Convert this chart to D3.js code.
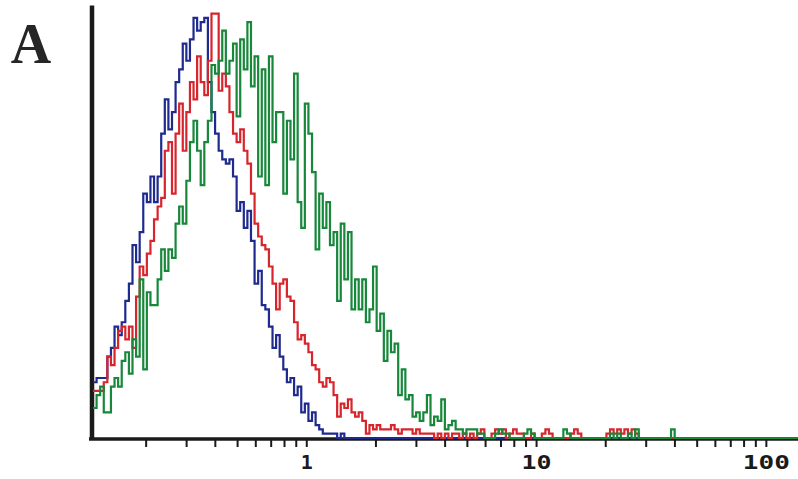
<!DOCTYPE html>
<html>
<head>
<meta charset="utf-8">
<script src="https://cdn.jsdelivr.net/npm/d3@7"></script>
<style>
  html, body { margin: 0; padding: 0; background: #fff; }
  svg { display: block; }
</style>
</head>
<body>
<svg id="chart" width="798" height="479"></svg>
<script>
// Log-scaled fluorescence channels: each bin is 1/64 of a decade, starting at 0.118
const channelOrigin = 0.118;
const channelsPerDecade = 64;
const xExtent = [0.118, 138];
const countMax = 101;

// Axis ticks and labels
const minorTicks = [0.2, 0.3, 0.4, 0.5, 0.6, 0.7, 0.8, 0.9,
                    2, 3, 4, 5, 6, 7, 8, 9,
                    20, 30, 40, 50, 60, 70, 80, 90];
const labelValues = [1, 10, 100];
const labelTexts = ["1", "10", "100"];
const panelLetter = "A";

// Event counts per channel for each histogram
const blueCounts = [
  13, 14, 14, 14, 19, 21, 26, 24, 27, 32,
  36, 45, 41, 48, 57, 55, 61, 55, 61, 71,
  79, 72, 76, 83, 86, 92, 88, 93, 98, 95,
  97, 98, 83, 76, 71, 67, 65, 64, 65, 61,
  53, 55, 49, 53, 46, 36, 39, 31, 30, 26,
  21, 24, 19, 16, 13, 14, 10, 12, 6, 8,
  4, 6, 3, 2, 1, 1, 1, 1, 0, 1
];
const redCounts = [
  11, 11, 11, 13, 19, 17, 21, 25, 26, 23,
  26, 21, 33, 40, 38, 43, 46, 51, 54, 56,
  67, 69, 57, 71, 78, 67, 76, 83, 79, 89,
  83, 80, 88, 99, 99, 81, 85, 82, 76, 71,
  69, 72, 67, 64, 57, 50, 47, 45, 44, 40,
  36, 30, 36, 37, 33, 32, 27, 23, 24, 22,
  20, 17, 16, 13, 12, 14, 13, 10, 5, 8,
  7, 9, 6, 5, 6, 4, 1, 3, 2, 3,
  2, 2, 2, 3, 2, 1, 2, 2, 2, 1,
  2, 1, 1, 1, 1, 0, 1, 0, 1, 0,
  1, 1, 0, 1, 0, 1, 0, 1, 2, 0,
  0, 1, 2, 1, 2, 0, 1, 2, 1, 1,
  0, 0, 1, 0, 0, 1, 2, 1, 0, 0,
  0, 0, 0, 1, 2, 1, 0, 0, 0, 0,
  0, 0, 0, 1, 2, 1, 2, 1, 2, 1,
  2, 1
];
const greenCounts = [
  7, 10, 12, 6, 6, 12, 14, 12, 18, 20,
  15, 23, 19, 37, 16, 34, 31, 31, 37, 44,
  39, 44, 42, 50, 54, 50, 60, 69, 74, 67,
  59, 69, 74, 87, 85, 88, 95, 85, 88, 92,
  75, 93, 86, 97, 82, 89, 61, 86, 59, 89,
  69, 76, 76, 57, 74, 65, 85, 55, 49, 78,
  71, 62, 44, 57, 49, 55, 45, 48, 32, 50,
  37, 48, 30, 37, 30, 37, 27, 30, 40, 25,
  29, 18, 25, 20, 22, 10, 16, 9, 10, 5,
  6, 4, 6, 10, 3, 5, 4, 9, 2, 3,
  4, 2, 2, 1, 2, 2, 2, 1, 1, 0,
  0, 0, 1, 2, 1, 1, 0, 0, 0, 0,
  1, 2, 1, 0, 0, 0, 0, 0, 0, 0,
  0, 2, 1, 0, 0, 0, 0, 0, 0, 0,
  0, 0, 0, 0, 1, 0, 1, 0, 0, 1,
  0, 2, 0, 0, 0, 0, 0, 0, 0, 0,
  0, 2
];

const seriesNames = ["blue", "red", "green"];
const seriesCounts = [blueCounts, redCounts, greenCounts];
const seriesColors = ["#1e2a8e", "#d6252c", "#17873a"];

const svg = d3.select("#chart");

const x = d3.scaleLog().domain(xExtent).range([93, 798]);
const y = d3.scaleLinear().domain([0, countMax]).range([438, 5]);

// lower edge of channel i
const channelEdge = i => channelOrigin * Math.pow(10, i / channelsPerDecade);

// Panel letter
svg.append("text")
  .attr("x", 31)
  .attr("y", 63)
  .attr("text-anchor", "middle")
  .attr("font-family", "'Liberation Serif', 'DejaVu Serif', serif")
  .attr("font-weight", "bold")
  .attr("font-size", 56)
  .attr("fill", "#262626")
  .text(panelLetter);

// Vertical axis line
const yAxis = d3.axisLeft(y).tickValues([]).tickSizeOuter(0);
const gy = svg.append("g").attr("transform", "translate(91.5,0)").call(yAxis);
gy.select(".domain").attr("stroke", "#1a1a1a").attr("stroke-width", 4.5);

// Horizontal axis: line, ticks, labels
const gx = svg.append("g").attr("transform", `translate(0,${y(0)})`);
gx.call(d3.axisBottom(x)
  .tickValues(minorTicks.concat(labelValues))
  .tickSize(9)
  .tickSizeOuter(0)
  .tickFormat(() => ""));
gx.select(".domain").remove();
gx.selectAll(".tick line").attr("stroke", "#1a1a1a").attr("stroke-width", 2);
gx.append("line")
  .attr("x1", 89).attr("x2", 798)
  .attr("y1", 1).attr("y2", 1)
  .attr("stroke", "#1a1a1a").attr("stroke-width", 3.5);

const labelWidths = { "1": 12, "10": 30, "100": 47 };
const gl = svg.append("g").attr("transform", `translate(0,${y(0)})`);
gl.call(d3.axisBottom(x)
  .tickValues(labelValues)
  .tickSize(0)
  .tickPadding(18)
  .tickFormat((d, i) => labelTexts[i]));
gl.select(".domain").remove();
gl.selectAll(".tick text")
  .attr("font-family", "'DejaVu Sans Mono', 'Liberation Mono', monospace")
  .attr("font-weight", "bold")
  .attr("font-size", 19)
  .attr("fill", "#1a1a1a")
  .attr("textLength", d => labelWidths[labelTexts[labelValues.indexOf(d)]])
  .attr("lengthAdjust", "spacingAndGlyphs");

// Histogram step lines
const line = d3.line()
  .x(d => x(d[0]))
  .y(d => y(d[1]))
  .curve(d3.curveStepAfter);

seriesCounts.forEach((counts, s) => {
  const pts = counts.map((c, i) => [channelEdge(i), c]);
  pts.push([channelEdge(counts.length), 0]);
  pts.push([xExtent[1], 0]);
  svg.append("path")
    .attr("class", "hist " + seriesNames[s])
    .attr("d", line(pts))
    .attr("fill", "none")
    .attr("stroke", seriesColors[s])
    .attr("stroke-width", 2.2)
    .attr("stroke-linejoin", "miter");
});
</script>
</body>
</html>
